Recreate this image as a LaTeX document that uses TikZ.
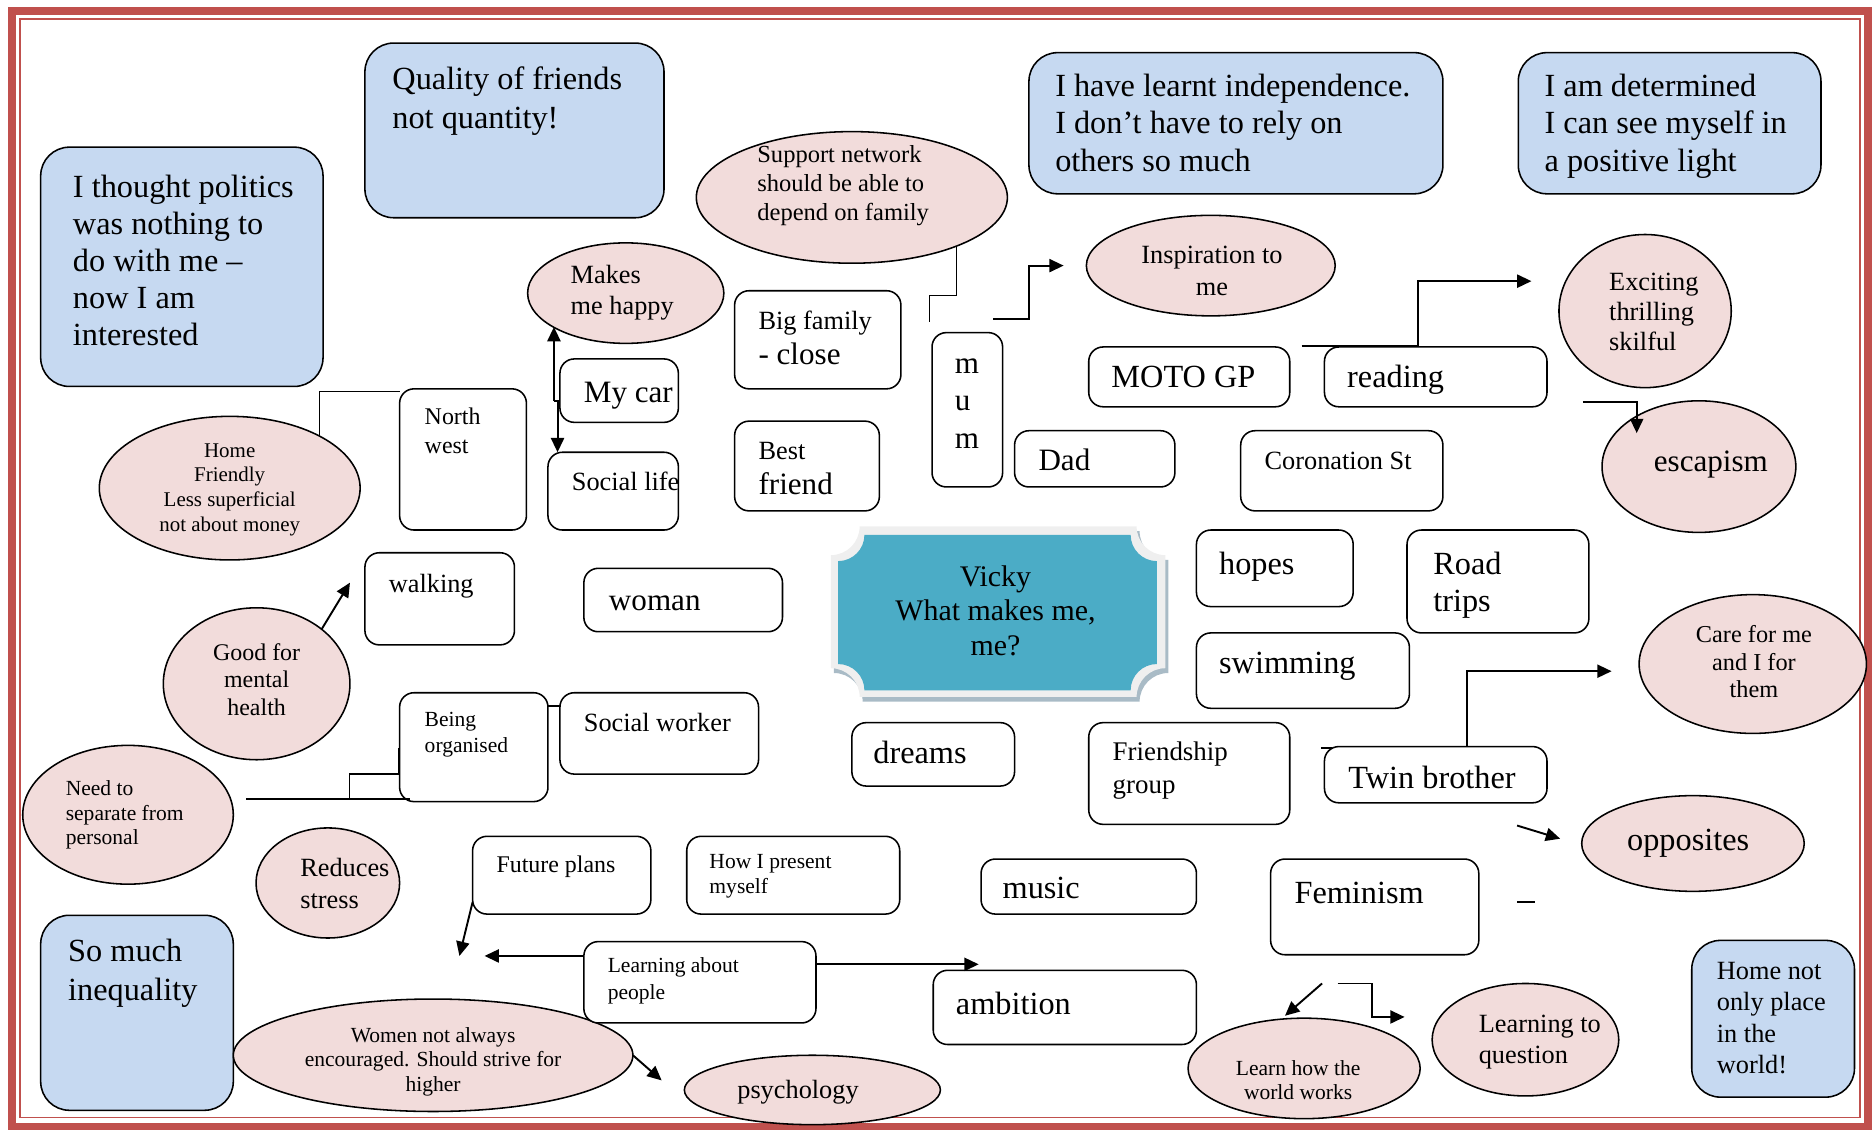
\documentclass[tikz,border=0pt]{standalone}
\usepackage{fontspec}
\setmainfont{Liberation Serif}
\usetikzlibrary{shapes.geometric,arrows.meta,calc}
\definecolor{bordred}{HTML}{C0504D}
\definecolor{bluefill}{HTML}{C6D9F1}
\definecolor{pinkfill}{HTML}{F2DCDB}
\definecolor{vteal}{HTML}{4BACC6}
\definecolor{plaquegray}{HTML}{EFEFEF}
\definecolor{shadowgray}{HTML}{A9BBC6}
\newcommand\fsz[2]{\fontsize{#1}{#2}\selectfont}
\newcommand\Lt[1]{\begin{tabular}[t]{@{}l@{}}#1\end{tabular}}
\newcommand\Ct[1]{\begin{tabular}[t]{@{}c@{}}#1\end{tabular}}
\begin{document}
\begin{tikzpicture}[x=1pt,y=-1pt,
  wbox/.style={draw=black, line width=1.3pt, rounded corners=12pt, fill=white, inner sep=0pt, outer sep=0pt},
  bbox/.style={draw=black, line width=1.3pt, rounded corners=24pt, fill=bluefill, inner sep=0pt, outer sep=0pt},
  pell/.style={ellipse, draw=black, line width=1.3pt, fill=pinkfill, inner sep=0pt, outer sep=0pt},
  txt/.style={inner sep=0pt, outer sep=0pt, anchor=base west},
  ctxt/.style={inner sep=0pt, outer sep=0pt, anchor=base},
  conn/.style={line width=1.4pt},
  thinconn/.style={line width=1.1pt},
  arr/.style={line width=1.6pt, -{Triangle[length=12pt,width=11pt]}}
]
\useasboundingbox (0,0) rectangle (1568,947);
% page border
\draw[bordred, line width=6.5pt] (10,9) rectangle (1561.5,941.5);
\draw[bordred, line width=1.3pt] (16.5,16) rectangle (1554.5,934);

% blue boxes
\node[bbox, minimum width=250pt, minimum height=146pt] (B1) at (430,109) {};
\node[bbox, minimum width=236pt, minimum height=200pt] (B2) at (152,223) {};
\node[bbox, minimum width=346pt, minimum height=118pt] (B3) at (1033,103) {};
\node[bbox, minimum width=253pt, minimum height=118pt] (B4) at (1395.5,103) {};
\node[bbox, minimum width=161pt, minimum height=163pt] (B5) at (114.5,846.5) {};
\node[bbox, minimum width=136pt, minimum height=131pt] (B6) at (1482,851.5) {};

% pink ellipses
\node[pell, minimum width=260pt, minimum height=110pt] (Esup) at (712,165) {};
\node[pell, minimum width=164pt, minimum height=84pt] (Ehappy) at (523,245) {};
\node[pell, minimum width=208pt, minimum height=84pt] (Einsp) at (1012,222) {};
\node[pell, minimum width=144pt, minimum height=128pt] (Eexc) at (1375,260) {};
\node[pell, minimum width=162pt, minimum height=110pt] (Eesc) at (1420,390) {};
\node[pell, minimum width=218pt, minimum height=120pt] (Ehome) at (192,408) {};
\node[pell, minimum width=156pt, minimum height=127pt] (Egood) at (214.5,571.5) {};
\node[pell, minimum width=176pt, minimum height=116pt] (Eneed) at (107,681) {};
\node[pell, minimum width=120pt, minimum height=92pt] (Ered) at (274,738) {};
\node[pell, minimum width=334pt, minimum height=94pt] (Ewomen) at (362,882) {};
\node[pell, minimum width=214pt, minimum height=58pt] (Epsy) at (679,911) {};
\node[pell, minimum width=194pt, minimum height=84pt] (Elhw) at (1090,893) {};
\node[pell, minimum width=156pt, minimum height=94pt] (Eltq) at (1275,869) {};
\node[pell, minimum width=190pt, minimum height=116pt] (Ecare) at (1465,555) {};
\node[pell, minimum width=186pt, minimum height=80pt] (Eopp) at (1415,705) {};

% white boxes
\node[wbox, minimum width=106pt, minimum height=118pt] (Wnw) at (387,384) {};
\node[wbox, minimum width=99pt, minimum height=53pt] (Wcar) at (517.5,326.5) {};
\node[wbox, minimum width=109pt, minimum height=65pt] (Wsocial) at (512.5,410.5) {};
\node[wbox, minimum width=139pt, minimum height=82pt] (Wbig) at (683.5,284) {};
\node[wbox, minimum width=121pt, minimum height=75pt] (Wbest) at (674.5,389.5) {};
\node[wbox, minimum width=59pt, minimum height=129pt] (Wmum) at (808.5,342.5) {};
\node[wbox, minimum width=134pt, minimum height=47pt] (Wdad) at (915,383.5) {};
\node[wbox, minimum width=168pt, minimum height=50pt] (Wmoto) at (994,315) {};
\node[wbox, minimum width=186pt, minimum height=50pt] (Wread) at (1200,315) {};
\node[wbox, minimum width=169pt, minimum height=67pt] (Wcoro) at (1121.5,393.5) {};
\node[wbox, minimum width=125pt, minimum height=77pt] (Wwalk) at (367.5,500.5) {};
\node[wbox, minimum width=166pt, minimum height=53pt] (Wwoman) at (571,501.5) {};
\node[wbox, minimum width=131pt, minimum height=64pt] (Whopes) at (1065.5,475) {};
\node[wbox, minimum width=152pt, minimum height=86pt] (Wroad) at (1252,486) {};
\node[wbox, minimum width=178pt, minimum height=63pt] (Wswim) at (1089,560.5) {};
\node[wbox, minimum width=124pt, minimum height=91pt] (Worg) at (396,624.5) {};
\node[wbox, minimum width=166pt, minimum height=68pt] (Wsw) at (551,613) {};
\node[wbox, minimum width=136pt, minimum height=53pt] (Wdreams) at (780,630.5) {};
\node[wbox, minimum width=168pt, minimum height=85pt] (Wfriend) at (994,646.5) {};
\node[wbox, minimum width=186pt, minimum height=47pt] (Wtwin) at (1200,647.5) {};
\node[wbox, minimum width=149pt, minimum height=65pt] (Wfuture) at (469.5,731.5) {};
\node[wbox, minimum width=178pt, minimum height=65pt] (Whow) at (663,731.5) {};
\node[wbox, minimum width=180pt, minimum height=46pt] (Wmusic) at (910,741) {};
\node[wbox, minimum width=174pt, minimum height=80pt] (Wfem) at (1149,758) {};
\node[wbox, minimum width=194pt, minimum height=68pt] (Wlpp) at (585,821) {};
\node[wbox, minimum width=220pt, minimum height=62pt] (Wamb) at (890,842) {};

% centre plaque
\fill[shadowgray, shift={(2.5,4)}] (718.5,440) -- (950,440) .. controls (950,453.25) and (960.75,464) .. (974,464) -- (974,558.5) .. controls (960.75,558.5) and (950,569.25) .. (950,582.5) -- (718.5,582.5) .. controls (718.5,569.25) and (707.75,558.5) .. (694.5,558.5) -- (694.5,464) .. controls (707.75,464) and (718.5,453.25) .. (718.5,440) -- cycle;
\fill[plaquegray] (718.5,440) -- (950,440) .. controls (950,453.25) and (960.75,464) .. (974,464) -- (974,558.5) .. controls (960.75,558.5) and (950,569.25) .. (950,582.5) -- (718.5,582.5) .. controls (718.5,569.25) and (707.75,558.5) .. (694.5,558.5) -- (694.5,464) .. controls (707.75,464) and (718.5,453.25) .. (718.5,440) -- cycle;
\fill[vteal] (722.5,447) -- (945,447) .. controls (945,459.15) and (954.85,469) .. (967,469) -- (967,555) .. controls (954.85,555) and (945,564.85) .. (945,577) -- (722.5,577) .. controls (722.5,564.85) and (712.65,555) .. (700.5,555) -- (700.5,469) .. controls (712.65,469) and (722.5,459.15) .. (722.5,447) -- cycle;

% coordinates for connector ends
\coordinate (h2) at (463,335);
\coordinate (s1) at (777,247);
\coordinate (s2) at (777,269);
\coordinate (i0) at (830,267);
\coordinate (ib) at (860,244);
\coordinate (i1) at (889,222);
\coordinate (r0) at (1088,289);
\coordinate (rb) at (1185,260);
\coordinate (r1) at (1280,235);
\coordinate (e0) at (1323,336);
\coordinate (e1) at (1368,362);
\coordinate (g1) at (292.5,487);
\coordinate (n0) at (206,668);
\coordinate (n1) at (343,668);
\coordinate (n2) at (292,668);
\coordinate (nm) at (333,647);
\coordinate (n3) at (333,625);
\coordinate (f1) at (384,799);
\coordinate (lp1) at (405,799);
\coordinate (lp2) at (818,806);
\coordinate (w1) at (553,903);
\coordinate (tw0) at (1104,625);
\coordinate (t1) at (1347,561);
\coordinate (o0) at (1268,690);
\coordinate (o1) at (1304,701);
\coordinate (d0) at (1268,754);
\coordinate (d1) at (1283,754);
\coordinate (lw0) at (1105,822);
\coordinate (lw1) at (1074,849);
\coordinate (q0) at (1118,822);
\coordinate (qb) at (1147,836);
\coordinate (q1) at (1174,850);

% connectors
\draw[thinconn] (Ehome.30) |- ([yshift=-2pt]Wnw.north west);
\draw[arr] (h2) -- (h2 |- Ehappy.205);
\draw[arr] (h2) -| ([xshift=8pt]Wsocial.north west);
\draw[thinconn] (Esup.-25) |- (s1) -- (s2);
\draw[arr] (i0) -| (ib) |- (i1);
\draw[arr] (r0) -| (rb) |- (r1);
\draw[arr] (e0) -| (e1);
\draw[arr] (Egood.40) -- (g1);
\draw[conn] (n0) -- (n1);
\draw[conn] (n2) |- (nm) -- (n3);
\draw[conn] ([yshift=-11pt]Worg.north east) -- ([yshift=-11pt]Wsw.north west);
\draw[arr] ([yshift=10pt]Wfuture.south west) -- (f1);
\draw[arr] ([yshift=-12pt]Wlpp.north west) -- (lp1);
\draw[arr] ([yshift=-19pt]Wlpp.north east) -- (lp2);
\draw[arr] (Ewomen.east) -- (w1);
\draw[conn] (tw0) -- ([xshift=6pt,yshift=-1pt]Wtwin.north west);
\draw[arr] ([xshift=26pt]Wtwin.north) |- (t1);
\draw[arr] (o0) -- (o1);
\draw[conn] (d0) -- (d1);
\draw[arr] (lw0) -- (lw1);
\draw[arr] (q0) -| (qb) |- (q1);

% texts: blue boxes
\node[txt, font=\fsz{27}{32}] (tB1) at (328,75) {\Lt{Quality of friends\\not quantity!}};
\node[txt, font=\fsz{27}{31}] (tB2) at (61,165) {\Lt{I thought politics\\was nothing to\\do with me –\\now I am\\interested}};
\node[txt, font=\fsz{27}{31}] (tB3) at (882,81) {\Lt{I have learnt independence.\\I don’t have to rely on\\others so much}};
\node[txt, font=\fsz{27}{31}] (tB4) at (1291,81) {\Lt{I am determined\\I can see myself in\\a positive light}};
\node[txt, font=\fsz{27}{32}] (tB5) at (57,804) {\Lt{So much\\inequality}};
\node[txt, font=\fsz{22}{26}] (tB6) at (1435,819) {\Lt{Home not\\only place\\in the\\world!}};

% texts: ellipses
\node[txt, font=\fsz{20.5}{24}] (tsup) at (633,136) {\Lt{Support network\\should be able to\\depend on family}};
\node[txt, font=\fsz{22}{26}] (thappy) at (477,237) {\Lt{Makes\\me happy}};
\node[ctxt, font=\fsz{22}{27}] (tinsp) at (1013,220) {\Ct{Inspiration to\\me}};
\node[txt, font=\fsz{22}{25}] (texc) at (1345,243) {\Lt{Exciting\\thrilling\\skilful}};
\node[ctxt, font=\fsz{26}{30}] (tesc) at (1430,394) {escapism};
\node[ctxt, font=\fsz{17.5}{20.7}] (thome) at (192,382) {\Ct{Home\\Friendly\\Less superficial\\not about money}};
\node[ctxt, font=\fsz{20}{23}] (tgood) at (214.5,552) {\Ct{Good for\\mental\\health}};
\node[txt, font=\fsz{18}{20.5}] (tneed) at (55,665) {\Lt{Need to\\separate from\\personal}};
\node[txt, font=\fsz{22}{26}] (tred) at (251,733) {\Lt{Reduces\\stress}};
\node[ctxt, font=\fsz{18}{20.5}] (twomen) at (362,871) {\Ct{Women not always\\encouraged. Should strive for\\higher}};
\node[ctxt, font=\fsz{22}{26}] (tpsy) at (667,918) {psychology};
\node[ctxt, font=\fsz{18}{20}] (tlhw) at (1085,899) {\Ct{Learn how the\\world works}};
\node[txt, font=\fsz{22}{26}] (tltq) at (1236,863) {\Lt{Learning to\\question}};
\node[ctxt, font=\fsz{20.3}{23}] (tcare) at (1466,537) {\Ct{Care for me\\and I for\\them}};
\node[ctxt, font=\fsz{27}{31}] (topp) at (1411,711) {opposites};

% texts: white boxes
\node[txt, font=\fsz{20}{24}] (tnw) at (355,355) {\Lt{North\\west}};
\node[txt, font=\fsz{26}{30}] (tcar) at (488,336) {My car};
\node[txt, font=\fsz{22}{26}] (tsocial) at (478,410) {Social life};
\node[txt, font=\fsz{22}{26}] (tbig1) at (634,275) {Big family};
\node[txt, font=\fsz{26}{30}] (tbig2) at (634,305) {- close};
\node[txt, font=\fsz{22}{26}] (tbest1) at (634,384) {Best};
\node[txt, font=\fsz{26}{30}] (tbest2) at (634,413) {friend};
\node[txt, font=\fsz{26}{31.5}] (tmum) at (798,312) {\Lt{m\\u\\m}};
\node[txt, font=\fsz{26}{30}] (tdad) at (868,393) {Dad};
\node[txt, font=\fsz{27}{31}] (tmoto) at (929,324) {MOTO GP};
\node[txt, font=\fsz{27}{31}] (tread) at (1126,324) {reading};
\node[txt, font=\fsz{22}{26}] (tcoro) at (1057,392) {Coronation St};
\node[txt, font=\fsz{22}{26}] (twalk) at (325,495) {walking};
\node[txt, font=\fsz{26}{30}] (twoman) at (509,510) {woman};
\node[txt, font=\fsz{27}{31}] (thopes) at (1019,480) {hopes};
\node[txt, font=\fsz{27}{31}] (troad) at (1198,480) {\Lt{Road\\trips}};
\node[txt, font=\fsz{27}{31}] (tswim) at (1019,563) {swimming};
\node[txt, font=\fsz{18}{22}] (torg) at (355,607) {\Lt{Being\\organised}};
\node[txt, font=\fsz{22}{26}] (tsw) at (488,611) {Social worker};
\node[txt, font=\fsz{27}{31}] (tdreams) at (730,638) {dreams};
\node[txt, font=\fsz{22.5}{27}] (tfriend) at (930,636) {\Lt{Friendship\\group}};
\node[txt, font=\fsz{27}{31}] (ttwin) at (1127,659) {Twin brother};
\node[txt, font=\fsz{20}{24}] (tfuture) at (415,729) {Future plans};
\node[txt, font=\fsz{18}{21}] (thow) at (593,726) {\Lt{How I present\\myself}};
\node[txt, font=\fsz{27}{31}] (tmusic) at (838,751) {music};
\node[txt, font=\fsz{27}{31}] (tfem) at (1082,755) {Feminism};
\node[txt, font=\fsz{18}{22}] (tlpp) at (508,813) {\Lt{Learning about\\people}};
\node[txt, font=\fsz{27}{31}] (tamb) at (799,848) {ambition};
\node[ctxt, font=\fsz{25}{29}] (tvicky) at (832,490) {\Ct{Vicky\\What makes me,\\me?}};
\end{tikzpicture}
\end{document}
